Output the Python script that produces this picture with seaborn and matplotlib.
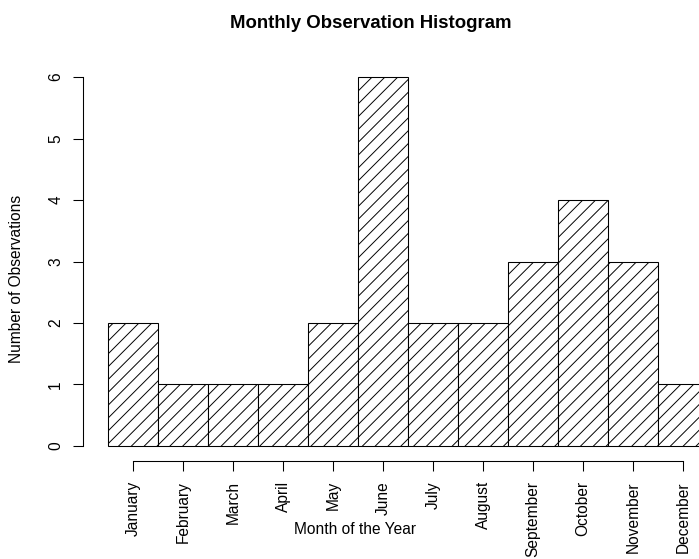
import matplotlib
matplotlib.use("Agg")
import matplotlib.pyplot as plt
import seaborn as sns
import pandas as pd

months = ["January", "February", "March", "April", "May", "June",
          "July", "August", "September", "October", "November", "December"]
counts = [2, 1, 1, 1, 2, 6, 2, 2, 3, 4, 3, 1]
y_ticks = [0, 1, 2, 3, 4, 5, 6]

DPI = 77
W, H = 699, 559

sns.set_style("white")
plt.rcParams["font.family"] = ["Liberation Sans", "DejaVu Sans"]
plt.rcParams["hatch.linewidth"] = 0.9
plt.rcParams["hatch.color"] = "black"

fig = plt.figure(figsize=(W / DPI, H / DPI), dpi=DPI)

# axes box in pixel coordinates (left, top, right, bottom)
L, T, R, B = 83, 62, 699, 461
ax = fig.add_axes([L / W, 1 - B / H, (R - L) / W, (B - T) / H])

df = pd.DataFrame({"month": months, "count": counts})
sns.barplot(data=df, x="month", y="count", ax=ax, width=1.0,
            color="white", saturation=1, edgecolor="black",
            linewidth=1.0, hatch="//")
for p in ax.patches:
    p.set_facecolor("white")
    p.set_edgecolor("black")
    p.set_hatch("//")
    p.set_clip_on(True)

ax.set_xlim(-1.0, -1.0 + (R - L) / 50)
ax.set_ylim(-0.244, 6.244)

for side in ["top", "right"]:
    ax.spines[side].set_visible(False)
ax.spines["left"].set_bounds(0, 6)
ax.spines["bottom"].set_bounds(0, 11)
for side in ["left", "bottom"]:
    ax.spines[side].set_color("black")
    ax.spines[side].set_linewidth(1.0)

ax.set_xticks(range(len(months)))
ax.set_xticklabels(months, rotation=90, va="top", ha="center")
ax.set_yticks(y_ticks)
ax.set_yticklabels([str(v) for v in y_ticks], rotation=90, va="center", ha="right")
ax.tick_params(axis="both", direction="out", length=9.4, width=1.0,
               color="black", labelsize=14.5, labelcolor="black",
               left=True, bottom=True)
ax.tick_params(axis="x", pad=9.4)
ax.tick_params(axis="y", pad=9)
ax.set_xlabel("")
ax.set_ylabel("")

fig.text(371 / W, 1 - 23 / H, "Monthly Observation Histogram",
         ha="center", va="center", fontsize=17.4, fontweight="bold", color="black")
fig.text(355 / W, 1 - 530 / H, "Month of the Year",
         ha="center", va="center", fontsize=14.5, color="black")
fig.text(17 / W, 1 - 279 / H, "Number of Observations",
         ha="center", va="center", rotation=90, fontsize=14.5, color="black")

fig.savefig("out.png", dpi=DPI)
